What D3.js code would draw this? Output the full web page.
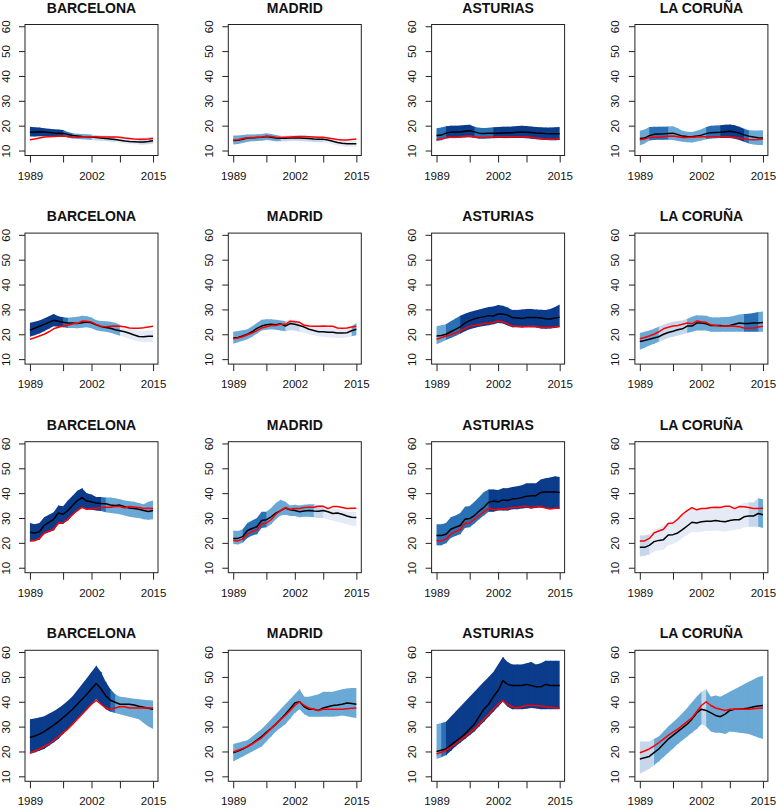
<!DOCTYPE html>
<html>
<head>
<meta charset="utf-8">
<script src="https://cdn.jsdelivr.net/npm/d3@7"></script>
<style>
  html, body { margin: 0; padding: 0; background: #ffffff; }
  svg { display: block; }
  text { font-family: "Liberation Sans", Arial, Helvetica, sans-serif; fill: #111; }
</style>
</head>
<body>
<svg id="chart" width="776" height="809"></svg>
<script>
// ---------------- data ----------------
const regions = ["BARCELONA", "MADRID", "ASTURIAS", "LA CORUÑA"];
const years = [1989,1990,1991,1992,1993,1994,1995,1996,1997,1998,1999,2000,2001,2002,
               2003,2004,2005,2006,2007,2008,2009,2010,2011,2012,2013,2014,2015];
const xTickYears = [1989, 1996, 2002, 2008, 2015];
const xTickLabels = [1989, 2002, 2015];
const yTicks = [10, 20, 30, 40, 50, 60];

// panels in row-major order (4 rows x 4 regions)
const medianSeries = [
  [17.4,17.5,17.6,17.5,17.3,17.1,17.0,16.9,16.5,16.0,15.8,15.6,15.5,15.4,15.2,15.0,14.8,14.6,14.4,14.1,13.8,13.6,13.5,13.4,13.4,13.6,13.9],
  [14.0,14.1,14.5,15.0,15.1,15.2,15.3,15.6,15.3,15.0,14.9,14.9,15.0,15.0,15.0,14.9,14.8,14.6,14.5,14.5,14.2,13.7,13.2,12.9,12.7,12.7,12.7],
  [16.0,16.2,17.0,17.4,17.5,17.5,17.8,18.0,17.5,17.0,16.9,17.0,17.0,17.0,17.1,17.2,17.2,17.4,17.5,17.4,17.3,17.1,17.0,16.8,16.7,16.7,16.7],
  [14.8,15.0,16.0,16.5,16.6,16.7,16.9,17.0,16.4,15.8,15.6,15.5,15.8,16.2,16.8,17.2,17.3,17.4,17.6,17.8,17.5,17.0,16.3,15.8,15.4,15.1,15.0],

  [21.6,22.4,23.2,24.0,24.8,25.6,25.2,24.8,24.5,24.5,24.3,24.6,24.9,24.6,23.8,23.1,22.7,22.4,21.8,21.4,21.0,20.4,19.7,19.1,19.0,19.2,19.2],
  [18.5,18.7,19.3,20.0,21.0,22.4,23.3,23.8,24.0,23.8,24.2,23.3,24.3,24.0,23.5,22.9,22.0,21.5,21.0,21.0,20.8,20.8,20.5,20.5,20.6,21.4,22.0],
  [19.3,19.5,20.0,21.0,22.0,23.0,24.5,25.5,26.2,26.7,27.0,27.5,27.3,28.2,28.2,27.7,26.7,26.5,26.3,26.7,26.7,26.7,26.5,26.2,26.1,26.5,26.9],
  [17.1,17.5,18.0,18.5,19.0,20.0,20.7,21.2,21.8,22.2,23.3,23.3,24.5,24.5,24.2,23.5,23.5,23.5,23.2,23.5,24.0,24.5,24.3,24.3,24.5,24.5,24.7],

  [24.3,24.0,24.5,27.0,28.2,29.5,32.0,31.5,33.0,35.0,37.0,38.2,36.8,36.5,36.0,35.8,35.7,35.2,35.0,35.2,34.5,34.0,33.8,33.5,33.0,32.6,33.0],
  [21.8,21.8,22.5,25.0,25.8,26.5,29.0,29.3,30.5,32.0,33.0,34.0,33.3,33.0,32.5,32.8,33.0,32.8,32.7,33.0,32.5,31.8,32.0,31.5,30.8,30.3,30.2],
  [23.0,23.0,23.5,25.5,26.3,27.0,29.5,29.8,31.0,32.8,34.3,36.3,36.8,36.5,37.3,37.0,37.7,37.8,38.2,38.8,39.0,39.0,40.3,40.5,40.5,40.5,40.3],
  [18.2,18.2,19.0,20.5,21.0,21.3,23.2,23.3,24.0,25.3,26.8,28.3,28.0,28.5,28.7,28.7,29.0,28.7,28.5,29.0,29.3,29.3,30.5,30.8,30.8,31.8,31.3],

  [25.6,26.2,27.0,28.0,29.3,30.6,32.0,33.6,35.3,37.0,39.0,41.0,43.0,45.2,47.3,45.2,42.4,40.6,39.8,39.0,39.0,39.0,38.7,38.2,37.8,37.4,37.0],
  [19.5,20.2,21.0,22.0,23.2,24.6,26.0,27.7,29.3,31.0,33.0,35.0,37.2,39.5,40.0,38.0,37.0,37.0,36.5,37.5,38.0,38.5,38.7,39.0,39.5,39.3,39.0],
  [20.0,20.5,21.0,22.5,24.0,25.5,27.0,29.0,31.0,34.0,37.0,39.0,42.0,44.5,48.5,47.0,46.5,46.5,46.5,47.0,46.5,46.0,46.0,47.0,46.5,46.5,46.5],
  [17.0,17.5,18.0,19.5,21.0,23.0,25.0,26.5,28.0,29.5,31.0,33.0,35.5,37.0,36.5,35.5,34.5,34.0,35.0,36.5,37.0,37.0,37.2,37.5,38.0,38.3,38.5]
];

const observedSeries = [
  [14.3,14.6,15.0,15.4,15.5,15.6,15.7,15.8,15.6,15.4,15.3,15.4,15.5,15.5,15.5,15.4,15.4,15.4,15.4,15.3,15.0,14.8,14.6,14.5,14.5,14.6,14.8],
  [14.2,14.3,14.8,15.1,15.2,15.3,15.4,15.8,15.6,15.3,15.2,15.3,15.4,15.5,15.6,15.6,15.5,15.4,15.3,15.3,15.0,14.7,14.4,14.2,14.2,14.4,14.6],
  [14.3,14.6,15.2,15.3,15.3,15.5,15.7,15.8,15.5,15.2,15.2,15.3,15.4,15.5,15.5,15.5,15.5,15.5,15.5,15.4,15.2,15.0,14.8,14.6,14.5,14.6,14.8],
  [14.3,14.6,15.2,15.3,15.3,15.5,15.7,15.8,15.5,15.2,15.2,15.3,15.4,15.5,15.5,15.5,15.5,15.5,15.5,15.4,15.2,15.0,14.7,14.4,14.3,14.4,14.6],

  [18.0,18.6,19.3,20.0,21.0,22.2,22.8,23.3,23.6,24.1,24.4,25.3,25.2,24.9,24.0,23.2,23.0,23.2,23.3,23.2,23.0,22.5,22.4,22.4,22.6,22.9,23.2],
  [18.2,18.5,19.0,19.8,20.5,21.5,22.5,23.0,23.5,23.5,24.0,24.0,25.2,25.0,24.8,23.6,23.3,23.2,23.2,23.3,23.2,23.2,22.5,22.4,22.5,22.9,23.2],
  [18.0,18.6,19.3,19.8,20.5,21.3,22.3,23.2,23.5,23.8,24.3,24.3,24.8,25.2,25.0,24.3,23.3,23.2,23.0,23.1,23.1,23.1,22.7,22.7,22.7,22.9,23.2],
  [18.2,18.7,19.3,20.0,21.0,22.2,22.8,23.3,23.5,24.0,24.5,24.2,25.3,25.0,24.8,23.8,23.5,23.2,23.3,23.3,23.2,23.0,22.5,22.4,22.5,22.9,23.2],

  [21.0,21.0,21.8,24.0,24.8,25.5,28.0,28.2,29.5,31.5,33.0,34.3,33.5,33.8,33.8,34.2,34.3,34.3,34.6,34.6,34.0,34.6,34.4,34.2,33.8,33.9,33.8],
  [21.0,20.8,21.5,23.5,24.5,25.3,27.5,28.0,29.3,31.5,33.0,34.2,33.5,33.8,33.8,34.2,34.3,34.3,34.7,34.7,33.8,34.6,34.6,34.2,33.8,33.9,33.9],
  [21.0,20.8,21.5,23.5,24.5,25.3,27.8,28.0,29.5,31.0,32.5,34.0,33.3,33.5,33.7,33.8,34.2,34.2,34.6,34.7,34.0,34.7,34.5,34.0,33.6,33.9,33.9],
  [20.8,20.8,21.8,24.0,24.8,25.5,27.8,28.0,29.5,31.5,33.0,34.2,33.3,33.8,33.8,34.2,34.3,34.2,34.7,34.7,33.8,34.6,34.5,34.2,33.8,33.8,33.9],

  [19.5,20.2,21.0,22.0,23.0,24.4,26.0,27.5,29.0,31.0,33.0,35.0,37.0,39.0,40.5,39.0,37.5,37.0,37.5,38.0,38.0,37.5,37.5,37.5,37.5,37.5,37.5],
  [19.8,20.5,21.2,22.0,23.0,24.3,25.5,27.3,29.2,31.0,32.8,34.5,36.5,38.5,40.0,38.5,37.5,37.0,36.5,37.0,37.0,37.0,37.0,37.0,37.2,37.4,37.5],
  [19.0,19.7,20.5,21.7,23.0,24.5,26.0,27.5,29.0,31.0,33.0,35.0,37.0,39.0,40.5,39.0,38.0,37.5,38.0,38.5,38.5,38.5,38.3,38.0,37.8,37.6,37.5],
  [19.5,20.2,21.0,22.2,23.5,25.0,26.5,27.8,29.0,30.5,32.0,33.5,36.0,38.5,40.0,38.5,37.5,37.0,36.5,37.0,37.0,37.0,37.0,37.0,37.2,37.4,37.5]
];

const upperSeries = [
  [19.6,19.4,19.3,19.0,18.8,18.6,18.5,18.3,17.5,17.0,16.8,16.6,16.5,16.4,16.2,16.0,15.9,15.8,15.6,15.4,15.2,15.1,15.0,15.0,15.0,15.3,15.6],
  [16.0,16.0,16.2,16.4,16.4,16.5,16.6,17.0,16.6,16.2,15.9,15.9,16.0,16.0,16.0,15.9,15.8,15.6,15.5,15.5,15.2,14.8,14.3,14.0,13.8,13.8,13.9],
  [19.0,19.3,19.8,20.0,20.0,20.1,20.3,20.4,19.6,19.2,19.1,19.2,19.4,19.5,19.6,19.6,19.7,19.9,20.0,19.9,19.7,19.5,19.4,19.3,19.3,19.4,19.5],
  [18.0,18.5,19.5,19.6,19.6,19.6,19.7,19.8,19.0,18.0,17.6,17.5,18.0,18.6,19.5,20.0,20.1,20.2,20.4,20.5,20.2,19.6,18.8,18.2,18.1,18.1,18.2],

  [24.6,25.0,25.5,26.3,27.3,28.2,27.2,26.8,26.6,26.8,27.0,27.5,27.3,26.7,25.6,25.3,25.2,25.0,24.6,23.8,23.0,22.4,21.8,21.4,21.4,21.6,21.6],
  [21.0,21.3,21.6,22.0,23.2,24.5,25.8,26.0,26.0,25.8,25.5,25.3,25.8,25.6,25.0,24.4,23.8,23.4,23.0,22.8,22.6,22.4,22.3,22.3,22.5,23.2,24.5],
  [23.2,23.6,24.0,25.2,26.3,27.5,28.3,29.0,29.5,30.0,30.5,31.0,31.2,31.8,31.5,30.8,29.8,29.8,30.0,30.2,30.2,30.0,29.9,29.8,30.2,31.0,32.0],
  [20.5,21.0,21.5,22.2,23.0,23.8,24.5,25.0,25.3,25.5,26.2,27.0,27.7,27.6,27.5,26.8,26.8,26.8,26.9,27.0,27.5,28.0,28.2,28.3,28.6,29.0,29.2],

  [28.0,27.5,28.0,30.3,31.3,32.3,35.0,34.7,37.0,39.0,41.0,42.0,40.0,39.5,38.5,38.5,38.3,38.3,38.0,37.5,37.0,36.7,36.5,36.0,35.5,36.5,37.0],
  [25.0,24.8,25.5,28.0,29.0,30.0,32.5,32.5,34.0,36.0,37.3,36.5,35.0,35.3,35.0,35.3,35.5,35.5,35.2,35.2,34.5,34.0,33.5,33.0,32.5,32.5,32.3],
  [27.5,27.5,28.0,30.3,31.0,32.0,34.5,34.8,36.5,38.5,40.5,41.5,41.5,41.3,42.0,42.0,42.5,42.8,43.2,44.0,44.0,44.0,45.5,46.0,46.3,46.8,46.5],
  [23.0,23.0,23.5,25.5,26.0,27.0,28.5,29.0,30.0,31.5,33.0,34.5,33.3,34.0,34.3,34.3,34.5,34.2,34.3,34.5,35.0,35.2,36.0,36.3,36.3,38.0,37.5],

  [33.0,33.3,33.7,34.2,35.2,36.2,37.4,38.8,40.4,42.2,44.6,47.0,49.5,52.0,54.5,52.0,48.0,45.0,43.0,42.0,41.8,41.5,41.2,41.0,40.8,40.6,40.5],
  [23.0,23.5,24.0,24.5,26.0,27.5,29.0,31.0,33.0,35.0,37.0,39.0,41.0,43.0,45.0,42.0,42.0,42.5,43.0,44.0,44.0,44.0,44.5,45.0,45.3,45.5,45.5],
  [31.0,31.5,32.0,34.0,36.0,38.0,40.0,42.0,44.0,46.0,48.0,50.0,52.0,55.0,58.0,56.0,55.0,55.0,55.0,55.5,56.0,55.0,55.5,56.5,56.5,56.5,56.5],
  [24.0,24.0,24.0,25.0,26.0,28.0,30.0,31.8,33.5,35.5,37.5,39.8,42.0,44.0,45.0,42.0,42.5,42.0,43.0,44.0,45.0,46.0,47.0,48.0,49.0,50.0,50.5]
];

const lowerSeries = [
  [15.6,15.6,15.7,15.7,15.7,15.8,15.8,15.7,15.2,14.8,14.6,14.5,14.4,14.2,14.0,13.9,13.8,13.6,13.4,13.1,12.8,12.6,12.5,12.4,12.4,12.5,12.7],
  [12.4,12.6,13.0,13.5,13.7,13.8,13.9,14.2,14.0,13.7,13.7,13.7,13.8,13.9,13.8,13.7,13.6,13.4,13.3,13.3,13.0,12.5,12.0,11.7,11.5,11.5,11.5],
  [13.8,14.1,14.8,15.0,15.0,15.1,15.2,15.3,15.0,14.7,14.7,14.8,14.9,15.0,15.0,15.0,15.0,15.0,15.0,14.9,14.7,14.5,14.3,14.2,14.1,14.1,14.2],
  [12.0,12.8,14.0,14.2,14.3,14.3,14.3,14.2,13.8,13.5,13.3,13.2,13.6,14.0,14.5,14.8,14.9,15.0,15.0,15.0,14.7,14.2,13.5,12.8,12.4,12.2,12.2],

  [19.0,19.6,20.3,21.2,22.2,23.2,23.0,22.8,22.5,22.5,22.4,22.6,22.8,22.4,21.6,21.2,21.0,20.6,20.0,19.4,18.9,18.2,17.6,17.1,16.9,16.9,16.8],
  [16.2,16.8,17.4,18.0,19.0,20.2,21.5,21.8,22.0,21.8,21.5,21.2,21.6,21.5,21.0,20.5,20.0,19.6,19.2,19.0,18.8,18.7,18.5,18.5,18.7,19.2,19.6],
  [16.0,16.8,17.7,18.5,19.3,20.2,21.2,22.0,22.5,23.0,23.3,23.6,24.0,24.5,24.3,23.5,22.8,22.8,22.7,22.8,22.8,22.7,22.3,22.2,22.3,22.5,22.8],
  [13.8,14.6,15.5,16.2,17.0,17.8,18.5,19.0,19.5,20.0,20.5,21.0,21.5,21.5,21.5,21.0,21.0,21.0,21.0,21.0,21.0,21.0,21.0,21.0,21.0,21.0,21.0],

  [20.5,20.7,21.3,23.5,24.3,25.0,27.5,27.7,29.0,31.0,32.8,34.0,33.3,33.3,33.0,32.8,32.3,32.0,31.8,31.5,31.0,30.5,30.2,30.0,29.5,29.3,29.5],
  [19.5,19.3,20.0,22.0,23.0,23.5,26.0,26.3,27.5,29.5,31.0,31.3,30.8,30.8,30.3,30.5,30.5,30.3,30.0,30.0,29.5,29.0,28.5,28.0,27.5,27.0,26.8],
  [19.0,19.0,19.8,22.0,22.8,23.5,26.0,26.3,27.8,29.5,31.0,32.5,32.5,33.0,33.0,33.0,33.5,33.5,33.8,34.0,33.8,34.0,34.2,34.0,33.7,33.8,33.8],
  [14.5,14.8,15.3,16.5,17.0,17.2,19.0,19.5,20.5,22.0,23.3,24.5,24.3,24.5,24.8,24.8,25.0,24.8,24.5,25.0,25.3,25.5,26.3,26.5,26.5,26.5,26.0],

  [19.0,19.6,20.3,21.0,22.3,23.6,25.0,27.0,29.0,31.0,33.0,35.0,37.0,39.0,41.0,39.0,37.0,36.0,35.5,35.0,34.5,34.0,33.5,33.0,31.5,30.0,29.0],
  [16.0,17.0,18.0,19.0,20.0,21.0,22.0,24.0,26.0,28.0,29.5,31.0,33.2,35.5,37.0,35.0,34.0,34.0,34.0,34.0,34.0,34.0,34.2,34.5,34.2,33.8,33.5],
  [17.0,17.7,18.5,20.2,22.0,23.5,25.0,26.5,28.0,30.0,32.0,34.0,36.0,38.0,40.0,38.0,37.0,37.0,37.0,37.2,37.5,37.3,37.0,37.0,37.0,37.0,37.0],
  [11.0,12.0,13.0,14.5,16.0,17.8,19.5,21.2,23.0,24.5,26.0,27.5,29.0,31.0,30.0,28.0,27.5,27.5,27.0,28.0,27.8,27.5,27.3,27.0,26.3,25.6,25.0]
];

// shade level of the band for each year-to-year interval (0 = palest ... 4 = darkest)
const bandShades = [
  [4,4,4,4,4,4,4,3,3,2,2,2,2,1,1,1,1,1,0,0,0,0,0,1,1,1],
  [2,2,2,2,2,2,2,2,2,2,1,1,1,1,1,1,1,1,1,0,0,0,0,0,0,0],
  [3,3,4,4,4,4,4,4,3,3,3,3,4,4,4,4,4,4,4,4,4,4,4,4,4,4],
  [2,2,3,3,3,3,2,2,2,2,2,2,2,2,3,3,3,4,4,4,4,4,3,2,2,2],

  [4,4,4,4,4,4,4,3,2,2,2,2,2,2,2,2,2,2,2,0,0,0,0,0,0,0],
  [2,2,2,2,2,2,2,2,2,2,2,1,1,1,0,0,0,0,0,0,0,0,0,0,0,2],
  [2,2,3,3,3,4,4,4,4,4,4,4,4,4,4,4,4,4,4,4,4,4,4,4,4,4],
  [2,2,2,2,1,1,1,1,1,1,2,2,2,2,2,2,2,2,2,2,2,2,3,3,3,2],

  [4,4,4,4,4,4,4,4,4,4,4,4,4,4,4,3,2,2,2,2,2,2,2,2,2,2],
  [2,2,3,3,3,3,3,2,2,2,2,2,2,2,2,2,2,1,1,0,0,0,0,0,0,0],
  [3,3,3,3,3,3,3,3,3,3,3,4,4,4,4,4,4,4,4,4,4,4,4,4,4,4],
  [1,1,0,0,0,0,0,0,0,0,0,0,0,0,0,0,0,0,0,0,0,0,0,1,1,2],

  [4,4,4,4,4,4,4,4,4,4,4,4,4,4,4,4,4,3,2,2,2,2,2,2,2,2],
  [2,2,2,2,2,2,2,2,2,2,2,2,2,2,2,2,2,2,2,2,2,2,2,2,2,2],
  [2,3,4,4,4,4,4,4,4,4,4,4,4,4,4,4,4,4,4,4,4,4,4,4,4,4],
  [1,1,1,2,2,2,2,2,2,2,2,2,2,1,2,2,2,2,2,2,2,2,2,2,2,2]
];

const shadeColors = ["#e4ebf6", "#c6d7eb", "#6aa9d5", "#2a70b4", "#0b3b8b"];

// ---------------- layout ----------------
const svg = d3.select("#chart");
const panelW = 133, panelH = 131;
const colX0 = 25, colStep = 203.3;
const rowY0 = 24.5, rowStep = 208.6;

const x = d3.scaleLinear().domain([1989 - 1.04, 2015 + 1.04]).range([0, panelW]);
const y = d3.scaleLinear().domain([8, 60.7]).range([panelH, 0]);

const lineGen = d3.line().x((d, i) => x(years[i])).y(d => y(d));
const areaGen = d3.area().x(d => x(d.yr)).y0(d => y(d.lo)).y1(d => y(d.hi));

const fontFam = "'Liberation Sans', Arial, Helvetica, sans-serif";

for (let r = 0; r < 4; r++) {
  for (let c = 0; c < 4; c++) {
    const k = r * 4 + c;
    const g = svg.append("g")
      .attr("transform", `translate(${colX0 + c * colStep},${rowY0 + r * rowStep})`);

    // band segments (each slightly overlapping the next to avoid seams)
    const lo = lowerSeries[k], hi = upperSeries[k], sh = bandShades[k];
    const last = years.length - 2;
    for (let i = 0; i <= last; i++) {
      const seg = [
        { yr: years[i], lo: lo[i], hi: hi[i] },
        { yr: years[i + 1], lo: lo[i + 1], hi: hi[i + 1] }
      ];
      if (i < last) seg.push({ yr: years[i + 1] + 0.15, lo: lo[i + 1], hi: hi[i + 1] });
      g.append("path")
        .attr("d", areaGen(seg))
        .attr("fill", shadeColors[sh[i]]);
    }

    // lines
    g.append("path").attr("d", lineGen(medianSeries[k]))
      .attr("fill", "none").attr("stroke", "#000").attr("stroke-width", 1.5)
      .attr("stroke-linejoin", "round");
    g.append("path").attr("d", lineGen(observedSeries[k]))
      .attr("fill", "none").attr("stroke", "#ff0000").attr("stroke-width", 1.5)
      .attr("stroke-linejoin", "round");

    // axes
    const ya = g.append("g")
      .call(d3.axisLeft(y).tickValues(yTicks).tickSize(6).tickSizeOuter(0));
    ya.select(".domain").remove();
    ya.selectAll("line").attr("stroke", "#222");
    ya.selectAll("text")
      .attr("x", null).attr("dy", null)
      .attr("transform", "translate(-15.5,0) rotate(-90)")
      .attr("text-anchor", "middle")
      .style("font-size", "11.5px")
      .style("font-family", fontFam)
      .attr("fill", "#111");

    const xa = g.append("g")
      .attr("transform", `translate(0,${panelH})`)
      .call(d3.axisBottom(x).tickValues(xTickYears).tickSize(7).tickPadding(9).tickSizeOuter(0)
        .tickFormat(d => xTickLabels.includes(d) ? String(d) : ""));
    xa.select(".domain").remove();
    xa.selectAll("line").attr("stroke", "#222");
    xa.selectAll("text")
      .style("font-size", "11.5px")
      .style("font-family", fontFam)
      .attr("fill", "#111");

    // box
    g.append("rect")
      .attr("x", 0).attr("y", 0).attr("width", panelW).attr("height", panelH)
      .attr("fill", "none").attr("stroke", "#222").attr("stroke-width", 1);

    // title
    g.append("text")
      .attr("x", panelW / 2).attr("y", -12)
      .attr("text-anchor", "middle")
      .style("font-size", "14px").style("font-weight", "bold")
      .style("font-family", fontFam)
      .text(regions[c]);
  }
}
</script>
</body>
</html>
